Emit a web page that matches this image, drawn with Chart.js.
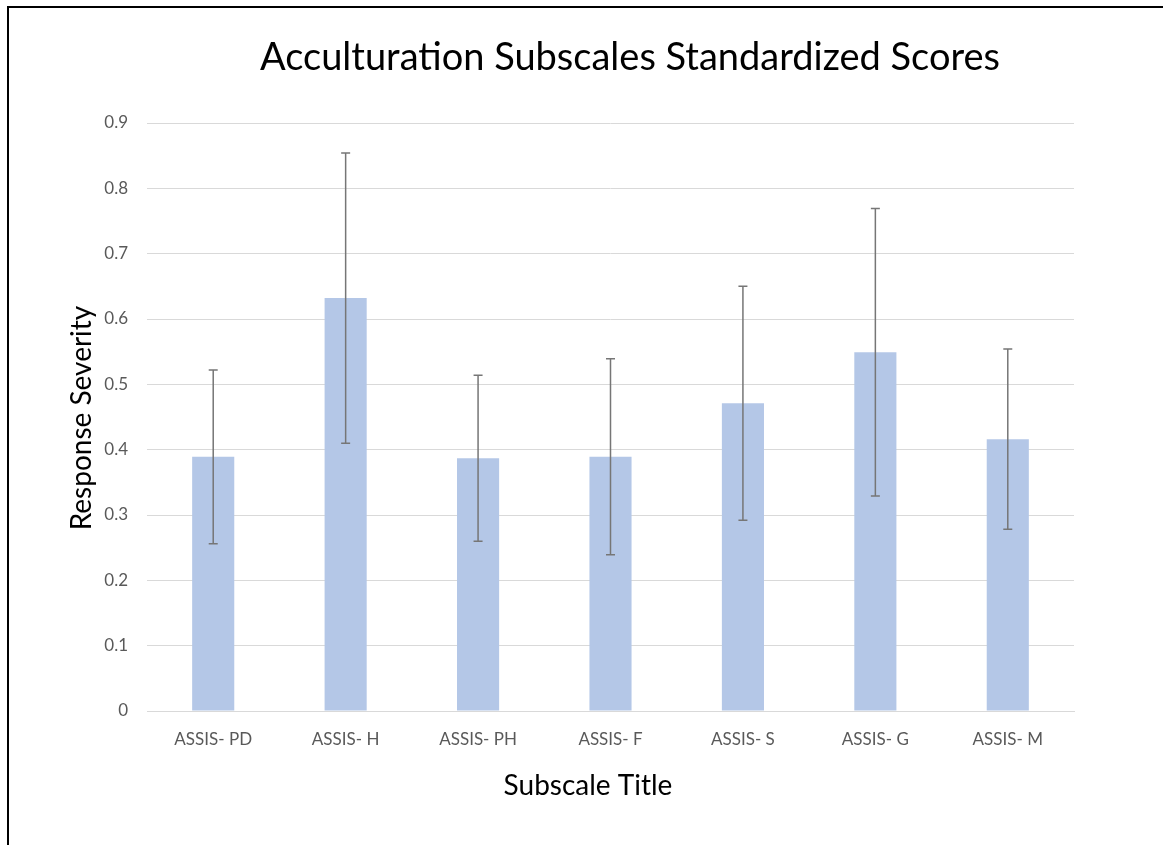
<!DOCTYPE html>
<html>
<head>
<meta charset="utf-8">
<script src="https://cdn.jsdelivr.net/npm/chart.js@4.4.1/dist/chart.umd.min.js"></script>
<style>
  html, body { margin: 0; padding: 0; background: #fff; overflow: hidden; }
  #wrap { position: relative; width: 1163px; height: 845px; }
  #frame { position: absolute; left: 7px; top: 6px; right: -10px; bottom: -10px;
           border-left: 2px solid #000; border-top: 2px solid #000; pointer-events: none; }
  canvas { position: absolute; left: 0; top: 0; }
</style>
</head>
<body>
<div id="wrap">
  <canvas id="c" width="1163" height="845"></canvas>
  <div id="frame"></div>
</div>
<script>
// ---- data ----
const categories = ['ASSIS- PD', 'ASSIS- H', 'ASSIS- PH', 'ASSIS- F', 'ASSIS- S', 'ASSIS- G', 'ASSIS- M'];
const meanScores = [0.389, 0.632, 0.387, 0.389, 0.471, 0.549, 0.416];
const errorValues = [0.133, 0.222, 0.127, 0.150, 0.179, 0.220, 0.138];
const yTickLabels = ['0', '0.1', '0.2', '0.3', '0.4', '0.5', '0.6', '0.7', '0.8', '0.9'];
const chartTitle = 'Acculturation Subscales Standardized Scores';
const xTitle = 'Subscale Title';
const yTitle = 'Response Severity';

const FONT = 'Lato, "Open Sans", sans-serif';

const errorBarPlugin = {
  id: 'errorBars',
  afterDatasetsDraw(chart) {
    const ctx = chart.ctx;
    const meta = chart.getDatasetMeta(0);
    const y = chart.scales.y;
    ctx.save();
    ctx.strokeStyle = '#767676';
    ctx.lineWidth = 1.5;
    meta.data.forEach((bar, i) => {
      const m = meanScores[i], e = errorValues[i];
      const yt = y.getPixelForValue(m + e);
      const yb = y.getPixelForValue(m - e);
      const x = bar.x;
      ctx.beginPath();
      ctx.moveTo(x, yt); ctx.lineTo(x, yb);
      ctx.moveTo(x - 4.5, yt); ctx.lineTo(x + 4.5, yt);
      ctx.moveTo(x - 4.5, yb); ctx.lineTo(x + 4.5, yb);
      ctx.stroke();
    });
    ctx.restore();
  }
};

const titlesPlugin = {
  id: 'titles',
  afterDraw(chart) {
    const ctx = chart.ctx;
    ctx.save();
    ctx.fillStyle = '#000';
    ctx.textAlign = 'center';
    ctx.textBaseline = 'middle';
    ctx.font = '38px ' + FONT;
    ctx.fillText(chartTitle, 630, 58);
    ctx.font = '28px ' + FONT;
    ctx.fillText(xTitle, 588, 786);
    ctx.translate(82, 418);
    ctx.rotate(-Math.PI / 2);
    ctx.font = '28px ' + FONT;
    ctx.fillText(yTitle, 0, 0);
    ctx.restore();
  }
};

new Chart(document.getElementById('c'), {
  type: 'bar',
  data: {
    labels: categories,
    datasets: [{
      data: meanScores,
      backgroundColor: '#b4c7e7',
      borderWidth: 0,
      barPercentage: 0.318,
      categoryPercentage: 1.0
    }]
  },
  options: {
    responsive: false,
    animation: false,
    devicePixelRatio: 1,
    layout: { padding: { top: 123, right: 89, left: 0, bottom: 0 } },
    plugins: { legend: { display: false }, title: { display: false }, tooltip: { enabled: false } },
    scales: {
      x: {
        afterFit(s) { s.height = 134; },
        grid: { display: false, drawTicks: false },
        border: { display: true, color: '#d9d9d9', width: 1 },
        ticks: { color: '#595959', font: { family: FONT, size: 17 }, padding: 18, maxRotation: 0 }
      },
      y: {
        min: 0, max: 0.9,
        afterFit(s) { s.width = 147; },
        grid: { color: '#d9d9d9', lineWidth: 1, drawTicks: false },
        border: { display: false },
        ticks: {
          stepSize: 0.1,
          color: '#595959',
          font: { family: FONT, size: 17 },
          padding: 19,
          callback: (v, i) => yTickLabels[i]
        }
      }
    }
  },
  plugins: [errorBarPlugin, titlesPlugin]
});
</script>
</body>
</html>
